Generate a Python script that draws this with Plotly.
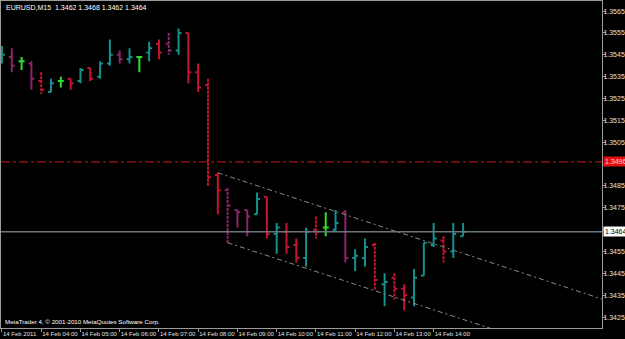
import plotly.graph_objects as go

# ---------------- data ----------------
times = [
    "2011-02-14 03:00", "2011-02-14 03:15", "2011-02-14 03:30", "2011-02-14 03:45",
    "2011-02-14 04:00", "2011-02-14 04:15", "2011-02-14 04:30", "2011-02-14 04:45",
    "2011-02-14 05:00", "2011-02-14 05:15", "2011-02-14 05:30", "2011-02-14 05:45",
    "2011-02-14 06:00", "2011-02-14 06:15", "2011-02-14 06:30", "2011-02-14 06:45",
    "2011-02-14 07:00", "2011-02-14 07:15", "2011-02-14 07:30", "2011-02-14 07:45",
    "2011-02-14 08:00", "2011-02-14 08:15", "2011-02-14 08:30", "2011-02-14 08:45",
    "2011-02-14 09:00", "2011-02-14 09:15", "2011-02-14 09:30", "2011-02-14 09:45",
    "2011-02-14 10:00", "2011-02-14 10:15", "2011-02-14 10:30", "2011-02-14 10:45",
    "2011-02-14 11:00", "2011-02-14 11:15", "2011-02-14 11:30", "2011-02-14 11:45",
    "2011-02-14 12:00", "2011-02-14 12:15", "2011-02-14 12:30", "2011-02-14 12:45",
    "2011-02-14 13:00", "2011-02-14 13:15", "2011-02-14 13:30", "2011-02-14 13:45",
    "2011-02-14 14:00", "2011-02-14 14:15", "2011-02-14 14:30", "2011-02-14 14:45",
]
opens = [1.3543, 1.3544, 1.3542, 1.3541, 1.3533, 1.3528, 1.3533, 1.3534,
         1.3533, 1.3539, 1.3535, 1.3541, 1.3545, 1.3543, 1.3544, 1.3546,
         1.3550, 1.3550, 1.3547, 1.3555, 1.3537, 1.3531, 1.3490, 1.3483,
         1.3474, 1.3474, 1.3472, 1.3480, 1.3463, 1.3464, 1.3458, 1.3452,
         1.3465, 1.3466, 1.3465, 1.3473, 1.3452, 1.3452, 1.3458, 1.3440,
         1.3443, 1.3438, 1.3434, 1.3444, 1.3458, 1.3460, 1.3455, 1.3462]
highs = [1.3549, 1.3548, 1.3544, 1.3542, 1.3537, 1.3534, 1.3535, 1.3534,
         1.3539, 1.3539, 1.3542, 1.3552, 1.3547, 1.3548, 1.3544, 1.3551,
         1.3552, 1.3555, 1.3557, 1.3555, 1.3541, 1.3534, 1.3491, 1.3484,
         1.3474, 1.3474, 1.3482, 1.3480, 1.3468, 1.3468, 1.3461, 1.3466,
         1.3471, 1.3473, 1.3474, 1.3474, 1.3456, 1.3461, 1.3459, 1.3445,
         1.3445, 1.3440, 1.3447, 1.3459, 1.3468, 1.3462, 1.3468, 1.3468]
lows = [1.3541, 1.3537, 1.3538, 1.3529, 1.3527, 1.3528, 1.3530, 1.3529,
        1.3532, 1.3533, 1.3534, 1.3540, 1.3541, 1.3541, 1.3537, 1.3542,
        1.3543, 1.3545, 1.3545, 1.3532, 1.3528, 1.3485, 1.3472, 1.3459,
        1.3466, 1.3462, 1.3472, 1.3461, 1.3454, 1.3454, 1.3450, 1.3448,
        1.3461, 1.3462, 1.3464, 1.3450, 1.3446, 1.3448, 1.3437, 1.3430,
        1.3433, 1.3428, 1.3430, 1.3444, 1.3457, 1.3450, 1.3452, 1.3462]
closes = [1.3545, 1.3540, 1.3542, 1.3534, 1.3529, 1.3532, 1.3533, 1.3532,
          1.3538, 1.3534, 1.3541, 1.3545, 1.3543, 1.3544, 1.3544, 1.3548,
          1.3546, 1.3547, 1.3555, 1.3537, 1.3530, 1.3489, 1.3483, 1.3476,
          1.3473, 1.3471, 1.3479, 1.3463, 1.3466, 1.3457, 1.3452, 1.3464,
          1.3464, 1.3466, 1.3468, 1.3452, 1.3453, 1.3457, 1.3442, 1.3441,
          1.3438, 1.3435, 1.3443, 1.3459, 1.3461, 1.3455, 1.3463, 1.3464]

symbol = "EURUSD,M15"
hline_price = 1.3496
bid_price = 1.3464

upper_trend_times = ["2011-02-14 08:30", "2011-02-14 18:30"]
upper_trend_prices = [1.3491, 1.3432]
lower_trend_times = ["2011-02-14 08:45", "2011-02-14 18:30"]
lower_trend_prices = [1.3459, 1.3402]

x_tick_times = ["2011-02-14 03:00", "2011-02-14 04:00", "2011-02-14 05:00", "2011-02-14 06:00",
                "2011-02-14 07:00", "2011-02-14 08:00", "2011-02-14 09:00", "2011-02-14 10:00",
                "2011-02-14 11:00", "2011-02-14 12:00", "2011-02-14 13:00", "2011-02-14 14:00"]
x_tick_labels = ["14 Feb 2011", "14 Feb 04:00", "14 Feb 05:00", "14 Feb 06:00",
                 "14 Feb 07:00", "14 Feb 08:00", "14 Feb 09:00", "14 Feb 10:00",
                 "14 Feb 11:00", "14 Feb 12:00", "14 Feb 13:00", "14 Feb 14:00"]
y_tick_values = [1.3425, 1.3435, 1.3445, 1.3455, 1.3465, 1.3475, 1.3485, 1.3495,
                 1.3505, 1.3515, 1.3525, 1.3535, 1.3545, 1.3555, 1.3565]
y_tick_labels = ["1.3425", "1.3435", "1.3445", "1.3455", "", "1.3475", "1.3485", "",
                 "1.3505", "1.3515", "1.3525", "1.3535", "1.3545", "1.3555", "1.3565"]

# ---------------- style ----------------
FONT = "Liberation Sans Narrow, Arial Narrow, Liberation Sans, sans-serif"
TEXT = "#e0e0e0"
GRID = "#9a9a9a"
# per-bar drawing style (as seen in the terminal rendering)
bar_kind = ["u", "p", "g", "p", "r", "u", "g", "d", "u", "d", "u", "u", "p", "u", "g", "u",
            "d", "q", "u", "d", "d", "r", "d", "q", "p", "p", "u", "d", "u", "d", "d", "u",
            "r", "g", "u", "p", "u", "u", "r", "u", "r", "d", "u", "u", "u", "r", "u", "u"]
kinds = {
    "u": dict(color="#14908f", dash="solid"),
    "d": dict(color="#c8142e", dash="solid"),
    "r": dict(color="#c8142e", dash="3px,1px"),
    "p": dict(color="#8c2468", dash="solid"),
    "q": dict(color="#8c2468", dash="3px,1px"),
    "g": dict(color="#2ee02e", dash="solid"),
}

fig = go.Figure()

for k, st in kinds.items():
    idx = [i for i, b in enumerate(bar_kind) if b == k]
    if not idx:
        continue
    line = dict(color=st["color"], width=2, dash=st["dash"])
    fig.add_trace(go.Ohlc(
        x=[times[i] for i in idx],
        open=[opens[i] for i in idx],
        high=[highs[i] for i in idx],
        low=[lows[i] for i in idx],
        close=[closes[i] for i in idx],
        increasing=dict(line=line),
        decreasing=dict(line=line),
        tickwidth=0.3,
        showlegend=False,
        hoverinfo="skip",
    ))

# channel lines
for tt, pp in ((upper_trend_times, upper_trend_prices), (lower_trend_times, lower_trend_prices)):
    fig.add_trace(go.Scatter(
        x=tt, y=pp, mode="lines",
        line=dict(color="#8c8c8c", width=1, dash="5px,3px,2px,3px"),
        showlegend=False, hoverinfo="skip",
    ))

# horizontal line and bid line
fig.add_hline(y=hline_price, line=dict(color="#d01818", width=1, dash="dashdot"))
fig.add_hline(y=bid_price, line=dict(color="#6a767c", width=1.5))

fig.add_annotation(xref="paper", yref="y", x=1, y=hline_price, xanchor="left", yanchor="middle",
                   xshift=1, text=f"{hline_price:.4f}", showarrow=False,
                   font=dict(family=FONT, size=7, color="#ffd0d0"),
                   bgcolor="#e01010", borderpad=1)
fig.add_annotation(xref="paper", yref="y", x=1, y=bid_price, xanchor="left", yanchor="middle",
                   xshift=1, text=f"{bid_price:.4f}", showarrow=False,
                   font=dict(family=FONT, size=7, color="#000000"),
                   bgcolor="#ffffff", borderpad=1)

header = f"{symbol}  {opens[-1]:.4f} {highs[-1]:.4f} {lows[-1]:.4f} {closes[-1]:.4f}"
fig.add_annotation(xref="paper", yref="paper", x=0, y=1, xanchor="left", yanchor="top",
                   xshift=3, yshift=-1, text=header, showarrow=False,
                   font=dict(family=FONT, size=7, color="#ffffff"))
fig.add_annotation(xref="paper", yref="paper", x=0, y=0, xanchor="left", yanchor="bottom",
                   xshift=2, yshift=1, text="MetaTrader 4, © 2001-2010 MetaQuotes Software Corp.",
                   showarrow=False, font=dict(family=FONT, size=6.2, color="#ffffff"))

fig.update_layout(
    width=625, height=339,
    margin=dict(l=1, r=23, t=1, b=11),
    paper_bgcolor="#000000", plot_bgcolor="#000000",
    showlegend=False,
    font=dict(family=FONT, size=7, color=TEXT),
    xaxis=dict(
        type="date",
        range=["2011-02-14 02:58:30", "2011-02-14 18:17:24"],
        rangeslider=dict(visible=False),
        showgrid=False, zeroline=False, automargin=False,
        showline=True, mirror=True, linecolor=GRID, linewidth=1,
        ticks="outside", ticklen=3, tickcolor=GRID, tickwidth=1,
        tickmode="array", tickvals=x_tick_times, ticktext=x_tick_labels,
        ticklabelposition="outside right", tickangle=0,
        tickfont=dict(family=FONT, size=6, color=TEXT),
    ),
    yaxis=dict(
        side="right",
        range=[1.3420, 1.35696],
        showgrid=False, zeroline=False, automargin=False,
        showline=True, mirror=True, linecolor=GRID, linewidth=1,
        ticks="outside", ticklen=3, tickcolor=GRID, tickwidth=1,
        tickmode="array", tickvals=y_tick_values, ticktext=y_tick_labels,
        ticklabelstandoff=-4,
        tickfont=dict(family=FONT, size=7, color=TEXT),
    ),
)

fig.write_html("out.html")
